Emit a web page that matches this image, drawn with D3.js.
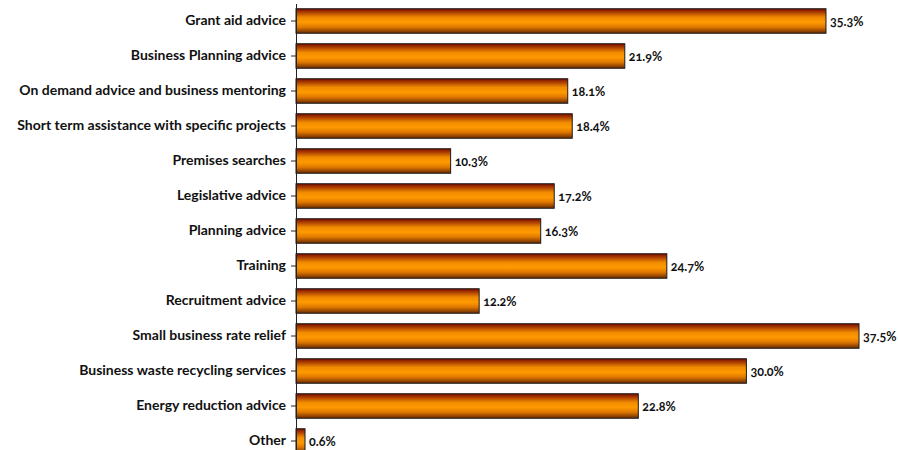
<!DOCTYPE html>
<html>
<head>
<meta charset="utf-8">
<script src="https://cdn.jsdelivr.net/npm/d3@7"></script>
<style>
    body { margin: 0; background: #fff; }
    text { font-family: Lato, "Open Sans", sans-serif; font-weight: bold; fill: #111; }
    .val { font-feature-settings: "onum"; }
</style>
</head>
<body>
<div id="chart"></div>
<script>
const categories = [
    'Grant aid advice',
    'Business Planning advice',
    'On demand advice and business mentoring',
    'Short term assistance with specific projects',
    'Premises searches',
    'Legislative advice',
    'Planning advice',
    'Training',
    'Recruitment advice',
    'Small business rate relief',
    'Business waste recycling services',
    'Energy reduction advice',
    'Other'
];
const values = [35.3, 21.9, 18.1, 18.4, 10.3, 17.2, 16.3, 24.7, 12.2, 37.5, 30.0, 22.8, 0.6];

const width = 898, height = 450;
const left = 296;

let svg = d3.select('#chart').append('svg')
    .attr('width', width)
    .attr('height', height);

// bar gradient, dark red top -> orange -> brown bottom
let grad = svg.append('defs').append('linearGradient')
    .attr('id', 'barGrad')
    .attr('x1', 0).attr('y1', 0).attr('x2', 0).attr('y2', 1);
grad.append('stop').attr('offset', '0%').attr('stop-color', '#7a0a00');
grad.append('stop').attr('offset', '35%').attr('stop-color', '#f08a00');
grad.append('stop').attr('offset', '55%').attr('stop-color', '#ff9a00');
grad.append('stop').attr('offset', '75%').attr('stop-color', '#e07800');
grad.append('stop').attr('offset', '100%').attr('stop-color', '#6a2a00');

let x = d3.scaleLinear()
    .domain([0, 37.5])
    .range([left, 859]);

let y = d3.scaleBand()
    .domain(categories)
    .range([3.5, 458.5])
    .paddingInner(0.3)
    .paddingOuter(0.15);

let data = categories.map((c, i) => ({name: c, value: values[i]}));

svg.selectAll('rect.bar')
    .data(data)
    .enter()
    .append('rect')
    .attr('class', 'bar')
    .attr('x', x(0))
    .attr('y', d => y(d.name))
    .attr('width', d => x(d.value) - x(0))
    .attr('height', y.bandwidth())
    .attr('fill', 'url(#barGrad)')
    .attr('stroke', '#1a1a1a')
    .attr('stroke-width', 1);

svg.selectAll('text.val')
    .data(data)
    .enter()
    .append('text')
    .attr('class', 'val')
    .attr('x', d => x(d.value) + 4)
    .attr('y', d => y(d.name) + y.bandwidth() / 2)
    .attr('dy', '.38em')
    .style('font-size', '12.5px')
    .text(d => d.value.toFixed(1) + '%');

let axis = svg.append('g')
    .attr('transform', 'translate(' + left + ',0)')
    .call(d3.axisLeft(y).tickSize(5).tickSizeOuter(0).tickPadding(5));

axis.select('.domain').attr('stroke', '#222');
axis.selectAll('.tick line').attr('stroke', '#222');
axis.selectAll('.tick text')
    .style('font-size', '14px')
    .style('font-family', 'Lato, "Open Sans", sans-serif')
    .style('font-weight', 'bold')
    .attr('fill', '#111');
</script>
</body>
</html>
